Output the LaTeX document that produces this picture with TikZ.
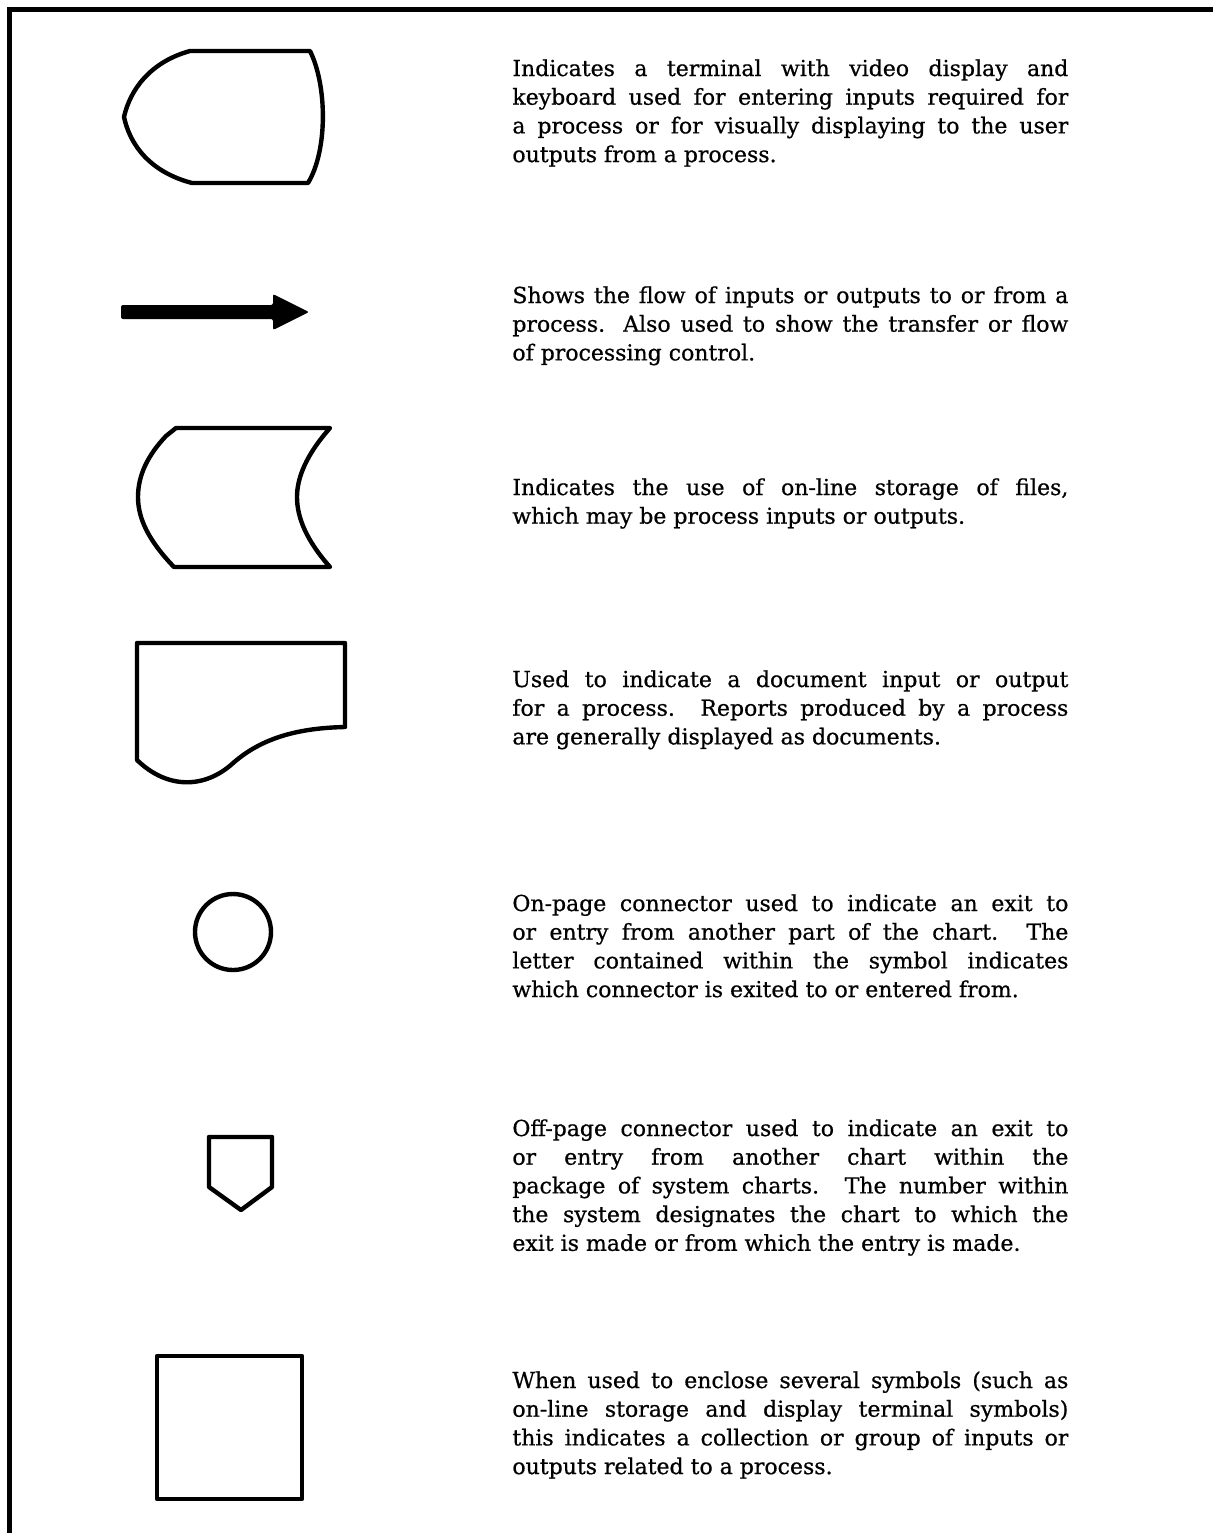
\documentclass[tikz,border=0pt]{standalone}
\usepackage{fontspec}
\setmainfont{DejaVu Serif}[FakeBold=0.7]
\begin{document}
\begin{tikzpicture}[x=0.5pt,y=-0.5pt]
\tikzset{
  symline/.style={line width=2.2pt, line join=round, line cap=round},
  desc/.style={anchor=base west, inner sep=0pt, text width=278pt, align=justify,
    font=\fontsize{11}{14.35}\selectfont},
}
\useasboundingbox (0,0) rectangle (1213,1533);
% frame
\draw[line width=2.5pt] (9,1533) -- (9,9.5) -- (1213,9.5);
% display terminal
\draw[symline] (190,51) -- (310,51) .. controls (327,85) and (328,150) .. (308,183)
  -- (192,183) .. controls (150,172) and (130,145) .. (124,117)
  .. controls (130,90) and (150,62) .. cycle;
% flow arrow
\fill[rounded corners=1] (121,305) -- (273,305) -- (273,294) -- (309,312) -- (273,330) -- (273,319) -- (121,319) -- cycle;
% on-line storage
\draw[symline] (176,428) -- (330,428) .. controls (306,455) and (297,478) .. (297,497)
  .. controls (297,517) and (306,540) .. (330,567) -- (174,567)
  .. controls (148,540) and (138,518) .. (138,497)
  .. controls (138,475) and (148,455) .. (166,436) -- cycle;
% document
\draw[symline] (137,643) -- (345,643) -- (345,727) .. controls (300,728) and (262,737) .. (232,764)
  .. controls (205,788) and (168,790) .. (137,760) -- cycle;
% on-page connector
\draw[symline] (233,932) circle[radius=38];
% off-page connector
\draw[symline] (209,1137) -- (272,1137) -- (272,1187) -- (241,1210) -- (209,1187) -- cycle;
% group box
\draw[symline] (157,1356) rectangle (302,1499);
% descriptions
\node[desc] (t1) at (512,76) {Indicates a terminal with video display and\linebreak
keyboard used for entering inputs required for\linebreak
a process or for visually displaying to the user\linebreak
outputs from a process.};
\node[desc] (t2) at (512,303) {Shows the flow of inputs or outputs to or from a\linebreak
process. Also used to show the transfer or flow\linebreak
of processing control.};
\node[desc] (t3) at (512,495) {Indicates the use of on-line storage of files,\linebreak
which may be process inputs or outputs.};
\node[desc] (t4) at (512,687) {Used to indicate a document input or output\linebreak
for a process. Reports produced by a process\linebreak
are generally displayed as documents.};
\node[desc] (t5) at (512,911) {On-page connector used to indicate an exit to\linebreak
or entry from another part of the chart. The\linebreak
letter contained within the symbol indicates\linebreak
which connector is exited to or entered from.};
\node[desc] (t6) at (512,1136) {Off-page connector used to indicate an exit to\linebreak
or entry from another chart within the\linebreak
package of system charts. The number within\linebreak
the system designates the chart to which the\linebreak
exit is made or from which the entry is made.};
\node[desc] (t7) at (512,1388) {When used to enclose several symbols (such as\linebreak
on-line storage and display terminal symbols)\linebreak
this indicates a collection or group of inputs or\linebreak
outputs related to a process.};
\end{tikzpicture}
\end{document}
